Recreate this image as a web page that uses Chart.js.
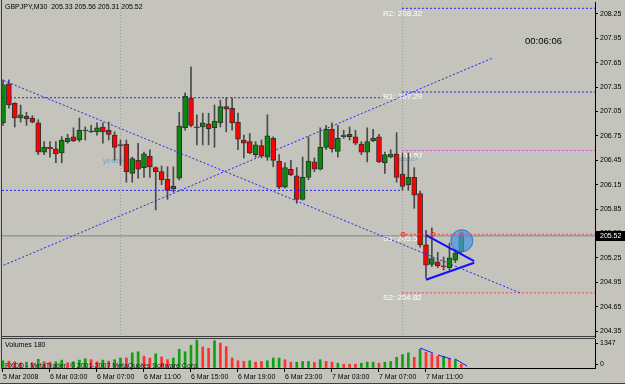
<!DOCTYPE html>
<html><head><meta charset="utf-8">
<script src="https://cdn.jsdelivr.net/npm/chart.js@4.4.1/dist/chart.umd.min.js"></script>
<style>
html,body{margin:0;padding:0;background:#c4c4bc;}
body{width:625px;height:384px;position:relative;overflow:hidden;}
canvas{position:absolute;left:0;}
#cA{top:0}
#cB{top:338px}
.ln{position:absolute;background:#3c3c3c}
</style></head><body>
<canvas id="cA" width="625" height="338"></canvas>
<canvas id="cB" width="625" height="46"></canvas>
<div class="ln" style="left:1px;top:0;width:1px;height:369px"></div>
<div class="ln" style="left:0;top:383px;width:625px;height:1px"></div>
<script>
// ---------------- DATA ----------------
const TITLE = 'GBPJPY,M30  205.33 205.56 205.31 205.52';
const TIMER = '00:06:06';
const OPEN  = [206.91,207.39,207.15,206.97,206.99,206.97,206.91,206.55,206.61,206.59,206.54,206.68,206.74,206.70,206.81,206.81,206.80,206.86,206.82,206.76,206.64,206.65,206.29,206.45,206.36,206.50,206.36,206.31,206.22,206.10,206.23,206.85,207.22,206.86,206.86,206.90,206.85,206.91,207.11,207.09,206.92,206.70,206.68,206.52,206.63,206.49,206.72,206.44,206.12,206.34,206.26,205.97,206.24,206.43,206.34,206.61,206.83,206.56,206.74,206.77,206.74,206.65,206.55,206.69,206.74,206.42,206.49,206.53,206.28,206.15,206.24,206.04,205.41,205.17,205.20,205.15,205.13,205.22,205.33];
const HIGH  = [207.44,207.44,207.16,207.13,207.04,207.00,206.95,206.68,206.68,206.68,206.74,206.77,206.85,206.97,206.86,206.88,206.91,206.91,206.92,206.80,206.70,206.70,206.49,206.66,206.55,206.58,206.37,206.38,206.37,206.37,207.04,207.28,207.60,207.01,207.03,207.03,207.13,207.19,207.22,207.22,207.03,206.76,206.78,206.68,206.70,207.01,206.74,206.52,206.42,206.45,206.36,206.49,206.74,206.48,206.85,206.88,206.91,206.88,206.82,206.86,206.82,206.68,206.85,206.83,206.77,206.55,206.58,206.79,206.54,206.54,206.36,206.07,205.59,205.62,205.32,205.26,205.43,205.35,205.56];
const LOW   = [206.88,207.09,206.86,206.92,206.88,206.91,206.52,206.52,206.49,206.42,206.42,206.66,206.68,206.68,206.70,206.79,206.76,206.66,206.70,206.45,206.39,206.18,206.18,206.23,206.24,206.24,205.84,206.15,205.97,206.06,206.21,206.82,206.86,206.64,206.64,206.64,206.61,206.86,206.80,206.82,206.58,206.48,206.53,206.49,206.48,206.45,206.37,206.10,206.11,206.26,205.92,205.96,206.21,206.31,206.33,206.58,206.55,206.49,206.72,206.70,206.64,206.52,206.43,206.68,206.42,206.29,206.48,206.18,206.08,206.08,205.86,205.38,205.00,205.14,205.13,205.10,205.10,205.19,205.31];
const CLOSE = [207.38,207.13,206.97,207.01,206.96,206.92,206.55,206.61,206.59,206.53,206.70,206.72,206.69,206.82,206.82,206.80,206.85,206.80,206.77,206.61,206.63,206.31,206.47,206.34,206.53,206.37,206.31,206.21,206.08,206.13,206.87,207.24,206.88,206.85,206.91,206.84,206.93,207.11,207.08,206.91,206.71,206.66,206.54,206.64,206.50,206.75,206.45,206.12,206.36,206.27,205.97,206.24,206.44,206.34,206.61,206.83,206.59,206.72,206.76,206.74,206.66,206.55,206.68,206.72,206.43,206.52,206.53,206.24,206.13,206.24,206.02,205.41,205.16,205.24,205.15,205.14,205.25,205.31,205.52];
const VOLUME = [350,330,300,250,280,260,420,300,280,300,380,250,300,380,450,400,300,380,330,400,480,483,733,783,567,483,683,533,400,483,900,783,1100,1347,1017,950,1317,1200,1033,483,350,317,350,283,317,350,483,483,400,283,283,317,317,267,400,317,283,233,183,183,183,233,283,283,233,283,317,517,650,733,517,900,767,683,567,567,450,400,180];
const VOL_UP = [1,0,0,0,1,0,1,0,0,1,1,0,1,1,1,0,0,1,0,1,1,0,1,1,0,0,1,0,0,1,1,1,1,1,0,0,1,0,0,0,0,0,1,0,0,1,1,1,0,0,1,1,1,0,1,0,0,1,0,0,0,1,1,1,0,1,1,1,1,1,0,1,0,0,0,1,0,1,0];
const VOL_LAST = 180;
const VOL_MAX_LABEL = 1347;
const TIME_TICK_INDEX = [0,8,16,24,32,40,48,56,64,72];
const TIME_LABELS = ['5 Mar 2008','6 Mar 03:00','6 Mar 07:00','6 Mar 11:00','6 Mar 15:00','6 Mar 19:00','6 Mar 23:00','7 Mar 03:00','7 Mar 07:00','7 Mar 11:00'];
const PRICE_TICKS = [204.35,204.65,204.95,205.25,205.55,205.85,206.15,206.45,206.75,207.05,207.35,207.65,207.95,208.25];
const BID = 205.52;
const PIVOT_NAMES  = ['R2','R1','PP','S1','S2'];
const PIVOT_LEVELS = [208.32,207.29,206.57,205.54,204.82];
const PREV_LEVELS  = [207.22,206.08];
const PREV_LEVEL_END = [64.7,67.9];
const DAY_START = [20,68];
const TRENDLINES = [[-0.51,207.45,88.0,204.82],[-0.51,205.14,83.4,207.71]];
const TRIANGLE   = [[72.0,205.53,80.2,205.21],[72.0,204.98,80.2,205.19]];
const HIGHLIGHT  = [78.1,205.46];
const ALERT_MARKS = [68.1,73.2,78.1];
const WATERMARKS = [[17.0,206.45],[66.6,206.47]];
const VOL_TRENDLINES = [[70.98,966,73.19,724],[74.04,628,76.26,435],[76.94,435,78.98,97]];

// ---------------- STYLE ----------------
const FONT = '"Liberation Sans", Arial, sans-serif';
const GREEN = '#0a8a0a', RED = '#ff0000', WICK = '#4a4a4a';
const BLUE = '#2424ee';
const PIVOT_COLORS = [BLUE, BLUE, '#e040e0', '#f04848', '#f04848'];
const XMIN = -0.17, XMAX = 100.77;
const YMIN = 204.2762, YMAX = 208.3976;
const PIVOT_LABEL_AT = 64.7;
const DAY_X0 = 67.9;

function seg(x1,y1,x2,y2,color,dash,width,order){
  return {type:'line', data:[{x:x1,y:y1},{x:x2,y:y2}], borderColor:color, borderWidth:width,
    borderDash:dash, pointRadius:0, fill:false, tension:0, order:order};
}

// ---------------- MAIN CHART ----------------
const dsA = [];
TRENDLINES.forEach(t=>dsA.push(seg(t[0],t[1],t[2],t[3],BLUE,[2,2],1,0)));
TRIANGLE.forEach(t=>dsA.push(seg(t[0],t[1],t[2],t[3],'#1010ff',[],2,0)));
PIVOT_LEVELS.forEach((v,k)=>dsA.push(seg(DAY_X0,v,XMAX,v,PIVOT_COLORS[k],[2,2],1,0)));
PREV_LEVELS.forEach((v,k)=>dsA.push(seg(XMIN,v,PREV_LEVEL_END[k],v,BLUE,[2,2],1,0)));
dsA.push({type:'line', data:[{x:HIGHLIGHT[0],y:HIGHLIGHT[1]}], showLine:false, pointRadius:11,
  pointBackgroundColor:'rgba(70,150,225,0.7)', pointBorderColor:'rgba(40,110,200,0.9)', pointBorderWidth:1, order:0});
dsA.push({type:'line', data:ALERT_MARKS.map(i=>({x:i,y:PIVOT_LEVELS[3]})), showLine:false, pointRadius:2,
  pointBackgroundColor:'rgba(0,0,0,0)', pointBorderColor:'#ff2020', pointBorderWidth:1, order:0});
dsA.push({type:'bar', data:OPEN.map((o,i)=>({x:i,y:[o,CLOSE[i]]})), barThickness:5, grouped:false,
  backgroundColor:OPEN.map((o,i)=>CLOSE[i]>=o?GREEN:RED), borderColor:'#303030', borderWidth:1,
  borderSkipped:false, minBarLength:1, order:1});
dsA.push({type:'bar', data:HIGH.map((h,i)=>({x:i,y:[LOW[i],h]})), barThickness:1, grouped:false,
  backgroundColor:WICK, borderWidth:0, order:2});
DAY_START.forEach(d=>dsA.push(seg(d,YMIN,d,YMAX,'#9a9a9a',[1,2],1,3)));
dsA.push(seg(XMIN,BID,XMAX,BID,'#80808e',[],1,3));

const overlayA = {
  id:'overlayA',
  beforeDatasetsDraw(chart){
    const {ctx, scales:{x,y}} = chart;
    ctx.save();
    ctx.textBaseline='middle'; ctx.textAlign='left';
    ctx.font = '8px '+FONT; ctx.fillStyle='#ffffff';
    PIVOT_LEVELS.forEach((v,k)=>ctx.fillText(PIVOT_NAMES[k]+': '+v.toFixed(2), x.getPixelForValue(PIVOT_LABEL_AT), y.getPixelForValue(v)+5));
    ctx.font = '8px '+FONT; ctx.fillStyle='rgba(95,165,195,0.85)';
    WATERMARKS.forEach(w=>ctx.fillText('yeszer', x.getPixelForValue(w[0]), y.getPixelForValue(w[1])));
    ctx.restore();
  },
  afterDraw(chart){
    const {ctx, chartArea:a, scales:{y}} = chart;
    ctx.save();
    ctx.fillStyle='#3c3c3c'; ctx.fillRect(a.left, a.bottom-1, a.right-a.left, 1);
    ctx.textBaseline='middle'; ctx.textAlign='left';
    ctx.fillStyle='#000'; ctx.font='7px '+FONT; ctx.fillText(TITLE, 5, 7);
    ctx.font='9.5px '+FONT; ctx.fillText(TIMER, 525, 41);
    const by = Math.round(y.getPixelForValue(BID));
    ctx.fillStyle='#000'; ctx.fillRect(a.right+1, by-5, 30, 10);
    ctx.fillStyle='#fff'; ctx.font='7px '+FONT; ctx.fillText(BID.toFixed(2), a.right+5, by+0.5);
    ctx.restore();
  }
};

new Chart(document.getElementById('cA'), {
  type:'bar',
  data:{datasets:dsA},
  options:{
    responsive:false, animation:false, devicePixelRatio:1, events:[],
    layout:{autoPadding:false, padding:{left:2, top:2, right:0, bottom:1}},
    plugins:{legend:{display:false}, tooltip:{enabled:false}},
    scales:{
      x:{type:'linear', min:XMIN, max:XMAX, display:false, offset:false, grid:{offset:false}},
      y:{type:'linear', position:'right', min:YMIN, max:YMAX,
         afterBuildTicks:s=>{s.ticks = PRICE_TICKS.map(v=>({value:v}));},
         afterFit:s=>{s.width=30; s.paddingTop=0; s.paddingBottom=0;},
         ticks:{font:{family:FONT,size:7}, color:'#000', padding:2, callback:v=>Number(v).toFixed(2)},
         grid:{drawOnChartArea:false, tickLength:3, color:'#000'},
         border:{color:'#000'}}
    }
  },
  plugins:[overlayA]
});

// ---------------- VOLUME CHART ----------------
const dsB = [];
VOL_TRENDLINES.forEach(t=>dsB.push(seg(t[0],t[1],t[2],t[3],'#1818ff',[],1,0)));
dsB.push({type:'bar', data:VOLUME.map((v,i)=>({x:i,y:v})), barThickness:2, grouped:false,
  backgroundColor:VOL_UP.map(u=>u?'#10a010':'#ff3030'), borderWidth:0, order:1});

const overlayB = {
  id:'overlayB',
  afterDraw(chart){
    const {ctx, chartArea:a, scales:{y}} = chart;
    ctx.save();
    ctx.fillStyle='#3c3c3c'; ctx.fillRect(a.left, a.top-1, a.right-a.left, 1);
    ctx.textBaseline='middle'; ctx.textAlign='left';
    ctx.fillStyle='#000'; ctx.font='7px '+FONT;
    ctx.fillText('Volumes '+VOL_LAST, 5, 7);
    ctx.fillStyle='#202020';
    ctx.fillText('FXDD - MetaTrader, \u00a9 2001-2007 MetaQuotes Software Corp.', 5, 28);
    ctx.fillStyle='#000';
    const y1 = Math.round(y.getPixelForValue(VOL_MAX_LABEL))+3, y0 = Math.round(y.getPixelForValue(0))-4;
    ctx.fillText(String(VOL_MAX_LABEL), a.right+5, y1);
    ctx.fillText('0', a.right+5, y0);
    ctx.fillRect(a.right+1, y1, 2, 1); ctx.fillRect(a.right+1, y0, 2, 1);
    ctx.restore();
  }
};

new Chart(document.getElementById('cB'), {
  type:'bar',
  data:{datasets:dsB},
  options:{
    responsive:false, animation:false, devicePixelRatio:1, events:[],
    layout:{autoPadding:false, padding:{left:2, top:1, right:0, bottom:0}},
    plugins:{legend:{display:false}, tooltip:{enabled:false}},
    scales:{
      x:{type:'linear', position:'bottom', min:XMIN, max:XMAX, offset:false,
         afterBuildTicks:s=>{s.ticks = TIME_TICK_INDEX.map(v=>({value:v}));},
         afterFit:s=>{s.height=16; s.paddingLeft=0; s.paddingRight=0;},
         ticks:{font:{family:FONT,size:7}, color:'#000', padding:1, align:'start', autoSkip:false, maxRotation:0, minRotation:0,
           callback:(v,i)=>TIME_LABELS[i]},
         grid:{drawOnChartArea:false, tickLength:4, color:'#000', offset:false},
         border:{color:'#000'}},
      y:{type:'linear', position:'right', min:0, max:1400,
         afterFit:s=>{s.width=30; s.paddingTop=0; s.paddingBottom=0;},
         ticks:{display:false}, grid:{drawOnChartArea:false, drawTicks:false},
         border:{color:'#000'}}
    }
  },
  plugins:[overlayB]
});
</script></body></html>
